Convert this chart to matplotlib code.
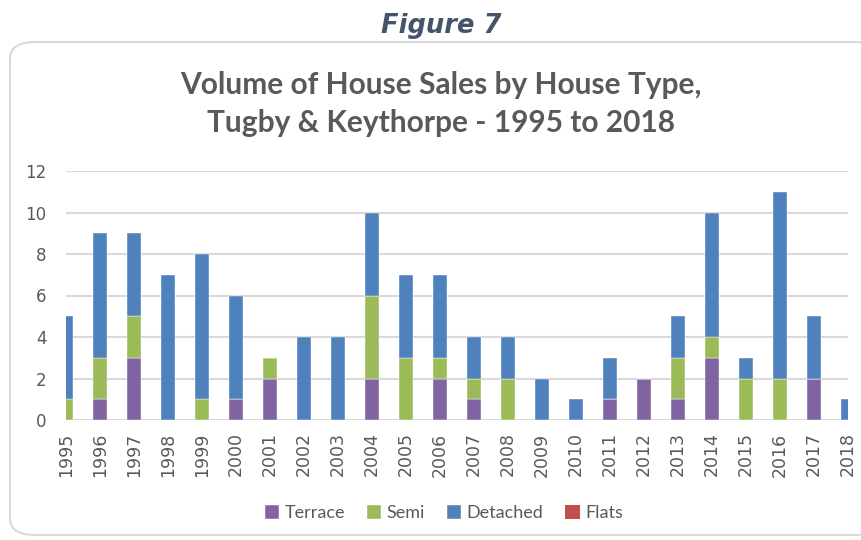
import matplotlib.pyplot as plt
from matplotlib.patches import FancyBboxPatch
import numpy as np

years = [str(y) for y in range(1995, 2019)]
terrace = [0, 1, 3, 0, 0, 1, 2, 0, 0, 2, 0, 2, 1, 0, 0, 0, 1, 2, 1, 3, 0, 0, 2, 0]
semi = [1, 2, 2, 0, 1, 0, 1, 0, 0, 4, 3, 1, 1, 2, 0, 0, 0, 0, 2, 1, 2, 2, 0, 0]
detached = [4, 6, 4, 7, 7, 5, 0, 4, 4, 4, 4, 4, 2, 2, 2, 1, 2, 0, 2, 6, 1, 9, 3, 1]
flats = [0] * 24

C_TER, C_SEMI, C_DET, C_FLAT = '#8064A2', '#9BBB59', '#4F81BD', '#C0504D'
GREY = '#595959'

fig = plt.figure(figsize=(8.62, 5.40), dpi=100)

# rounded chart frame
frame = FancyBboxPatch((10 / 862, 5 / 540), 870 / 862, 493 / 540,
                       boxstyle='round,pad=0,rounding_size=0.03',
                       transform=fig.transFigure, facecolor='white',
                       edgecolor='#D9D9D9', linewidth=1.5, zorder=-5)
fig.patches.append(frame)

fig.text(0.512, 0.952, 'Figure 7', ha='center', va='center', fontsize=18.5,
         fontweight='bold', fontstyle='italic', color='#44546A', family='DejaVu Sans')
fig.text(0.512, 0.808, 'Volume of House Sales by House Type,\nTugby & Keythorpe - 1995 to 2018',
         ha='center', va='center', fontsize=21.5, fontweight='bold', color=GREY,
         family='Lato', linespacing=1.42)

ax = fig.add_axes([66 / 862, 1 - 420 / 540, 782 / 862, 249 / 540])
x = np.arange(len(years))
w = 0.39
b1 = np.array(terrace)
b2 = b1 + np.array(semi)
b3 = b2 + np.array(detached)
ax.bar(x, terrace, w, color=C_TER, label='Terrace', zorder=3, edgecolor='white', linewidth=0.3)
ax.bar(x, semi, w, bottom=b1, color=C_SEMI, label='Semi', zorder=3, edgecolor='white', linewidth=0.3)
ax.bar(x, detached, w, bottom=b2, color=C_DET, label='Detached', zorder=3, edgecolor='white', linewidth=0.3)
ax.bar(x, flats, w, bottom=b3, color=C_FLAT, label='Flats', zorder=3)

ax.set_xlim(0, len(years) - 1)
ax.set_ylim(0, 12)
ax.set_yticks(range(0, 13, 2))
ax.set_xticks(x)
ax.set_xticklabels(years, rotation=90, fontsize=12.5, color=GREY)
ax.tick_params(axis='y', labelsize=12, colors=GREY, length=0, pad=14)
ax.tick_params(axis='x', length=0, pad=9)
ax.grid(axis='y', color='#D9D9D9', linewidth=1.5, zorder=0)
for s in ax.spines.values():
    s.set_visible(False)
ax.set_facecolor('none')

fig.legend(loc='center', bbox_to_anchor=(0.515, 0.05), ncol=4, frameon=False,
           prop={'family': 'Lato', 'size': 13}, labelcolor=GREY,
           handlelength=0.8, handleheight=0.8, handletextpad=0.3, columnspacing=1.2)

fig.savefig('out.png', dpi=100)
